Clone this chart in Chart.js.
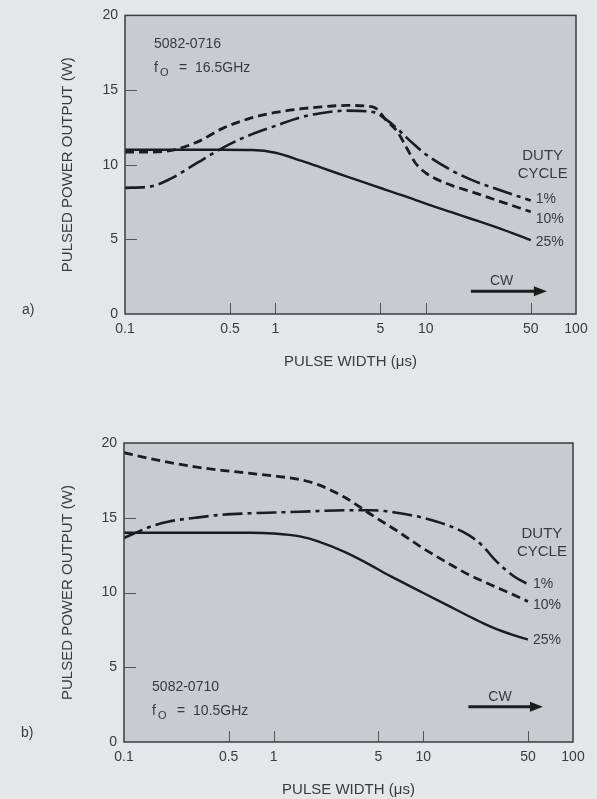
<!DOCTYPE html>
<html>
<head>
<meta charset="utf-8">
<script src="https://cdn.jsdelivr.net/npm/chart.js@4.4.1/dist/chart.umd.min.js"></script>
<style>
  html, body { margin: 0; padding: 0; background: #e4e7ea; }
  canvas { display: block; }
</style>
</head>
<body>
<canvas id="chartA" width="597" height="400"></canvas>
<canvas id="chartB" width="597" height="399"></canvas>
<script>
const xTickValues = [0.1, 0.5, 1, 5, 10, 50, 100];
const yTickValues = [0, 5, 10, 15, 20];
const dutyLabels = ["1%", "10%", "25%"];

// a) 5082-0716 at 16.5 GHz
const pulseA = [0.1, 0.15, 0.2, 0.3, 0.45, 0.7, 1, 1.5, 2, 3, 4.5, 5.5, 6.5, 7.5, 8.5, 10, 15, 20, 30, 50];
const powerA1  = [8.45, 8.55, 9.05, 10.1, 11.15, 12.05, 12.6, 13.2, 13.45, 13.62, 13.52, 13.0, 12.4, 11.8, 11.3, 10.7, 9.6, 9.0, 8.35, 7.6];
const powerA10 = [10.85, 10.85, 10.95, 11.5, 12.45, 13.15, 13.5, 13.75, 13.87, 13.97, 13.85, 12.95, 12.2, 11.1, 10.15, 9.45, 8.6, 8.2, 7.6, 6.85];
const powerA25 = [11.0, 11.0, 11.0, 11.0, 11.0, 10.98, 10.8, 10.25, 9.82, 9.2, 8.6, 8.3, 8.05, 7.84, 7.65, 7.4, 6.8, 6.38, 5.78, 4.95];

// b) 5082-0710 at 10.5 GHz
const pulseB = [0.1, 0.15, 0.2, 0.3, 0.45, 0.7, 1, 1.5, 2, 3, 4.5, 5.5, 6.5, 7.5, 8.5, 10, 15, 20, 25, 30, 40, 50];
const powerB1  = [13.65, 14.4, 14.75, 15.0, 15.2, 15.3, 15.35, 15.4, 15.45, 15.5, 15.5, 15.45, 15.35, 15.25, 15.15, 15.0, 14.45, 13.85, 13.1, 12.2, 11.1, 10.55];
const powerB10 = [19.35, 18.95, 18.7, 18.4, 18.17, 17.97, 17.8, 17.55, 17.2, 16.35, 15.2, 14.65, 14.2, 13.78, 13.42, 12.95, 11.9, 11.2, 10.75, 10.4, 9.85, 9.4];
const powerB25 = [14.0, 14.0, 14.0, 14.0, 14.0, 14.0, 13.95, 13.75, 13.4, 12.7, 11.8, 11.3, 10.93, 10.61, 10.33, 9.97, 9.07, 8.43, 7.95, 7.6, 7.15, 6.85];

const INK = "#1c1c1c";
const TEXT = "#3a3a3a";
const PANEL = "#c8cbd0";
const FONT = '"Liberation Sans", Arial, Helvetica, sans-serif';

function font(size) { return size + "px " + FONT; }

const plotDecor = {
  id: "plotDecor",
  beforeDatasetsDraw(chart) {
    const { ctx, chartArea: a } = chart;
    ctx.save();
    ctx.fillStyle = PANEL;
    ctx.fillRect(a.left, a.top, a.right - a.left, a.bottom - a.top);
    ctx.restore();
  },
  afterDatasetsDraw(chart, args, o) {
    const { ctx, chartArea: a, scales: { x, y } } = chart;
    ctx.save();

    // frame
    ctx.strokeStyle = "#3c3c3c";
    ctx.lineWidth = 1.5;
    ctx.strokeRect(a.left, a.top, a.right - a.left, a.bottom - a.top);

    // inside tick marks
    ctx.strokeStyle = "#555";
    ctx.lineWidth = 1;
    ctx.beginPath();
    xTickValues.slice(1, -1).forEach(v => {
      const px = Math.round(x.getPixelForValue(v)) + 0.5;
      ctx.moveTo(px, a.bottom);
      ctx.lineTo(px, a.bottom - 11);
    });
    yTickValues.slice(1, -1).forEach(v => {
      const py = Math.round(y.getPixelForValue(v)) + 0.5;
      ctx.moveTo(a.left, py);
      ctx.lineTo(a.left + 12, py);
    });
    ctx.stroke();

    ctx.fillStyle = TEXT;
    ctx.textBaseline = "middle";

    // device and frequency note
    const nx = x.getPixelForValue(o.note.x);
    const ny = y.getPixelForValue(o.note.y);
    ctx.textAlign = "left";
    ctx.font = font(14);
    ctx.fillText(o.device, nx, ny);
    ctx.fillText("f", nx, ny + 24);
    ctx.font = font(11);
    ctx.fillText("O", nx + 6, ny + 29);
    ctx.font = font(14);
    ctx.fillText("=", nx + 25, ny + 24);
    ctx.fillText(o.freq, nx + 41, ny + 24);

    // duty cycle heading
    const dx = x.getPixelForValue(o.duty.x);
    const dy = y.getPixelForValue(o.duty.y);
    ctx.textAlign = "center";
    ctx.font = font(15);
    ctx.fillText("DUTY", dx, dy);
    ctx.fillText("CYCLE", dx, dy + 18);

    // labels at the end of each curve
    ctx.textAlign = "left";
    ctx.font = font(14);
    chart.data.datasets.forEach((ds, i) => {
      const pts = chart.getDatasetMeta(i).data;
      const last = pts[pts.length - 1];
      ctx.fillText(ds.label, last.x + 5, last.y + o.labelShift[i]);
    });

    // CW arrow
    const ax1 = x.getPixelForValue(o.cw.from);
    const ax2 = x.getPixelForValue(o.cw.to);
    const ay = y.getPixelForValue(o.cw.y);
    ctx.strokeStyle = INK;
    ctx.fillStyle = INK;
    ctx.lineWidth = 3;
    ctx.beginPath();
    ctx.moveTo(ax1, ay);
    ctx.lineTo(ax2 - 10, ay);
    ctx.stroke();
    ctx.beginPath();
    ctx.moveTo(ax2, ay);
    ctx.lineTo(ax2 - 13, ay - 5);
    ctx.lineTo(ax2 - 13, ay + 5);
    ctx.closePath();
    ctx.fill();
    ctx.fillStyle = TEXT;
    ctx.textAlign = "center";
    ctx.font = font(14);
    ctx.fillText("CW", x.getPixelForValue(o.cw.text), ay - 10);

    // panel letter
    ctx.textAlign = "left";
    ctx.fillText(o.panel.text, o.panel.x, o.panel.y);

    ctx.restore();
  }
};

function makeChart(id, pulse, series, decor, box) {
  const styles = [
    { borderDash: [20, 5, 4, 5], borderWidth: 2.6 },
    { borderDash: [9, 5], borderWidth: 2.8 },
    { borderDash: [], borderWidth: 2.4 }
  ];
  return new Chart(document.getElementById(id), {
    type: "line",
    data: {
      datasets: series.map((vals, i) => ({
        label: dutyLabels[i],
        data: pulse.map((p, k) => ({ x: p, y: vals[k] })),
        borderColor: INK,
        borderDash: styles[i].borderDash,
        borderWidth: styles[i].borderWidth,
        pointRadius: 0,
        fill: false,
        cubicInterpolationMode: "monotone"
      }))
    },
    options: {
      responsive: false,
      animation: false,
      events: [],
      layout: { padding: { top: box.top, right: box.right, left: 0, bottom: 0 } },
      scales: {
        x: {
          type: "logarithmic",
          min: 0.1,
          max: 100,
          afterBuildTicks: s => { s.ticks = xTickValues.map(v => ({ value: v })); },
          afterFit: s => { s.height = box.xHeight; },
          grid: { display: false, drawTicks: false },
          border: { display: false },
          ticks: {
            autoSkip: false,
            maxRotation: 0,
            padding: 7,
            color: TEXT,
            font: { family: FONT, size: 14 },
            callback: v => String(v)
          },
          title: {
            display: true,
            text: "PULSE WIDTH (\u03bcs)",
            color: TEXT,
            font: { family: FONT, size: 15 },
            padding: { top: 0, bottom: box.xTitlePad }
          }
        },
        y: {
          min: 0,
          max: 20,
          afterBuildTicks: s => { s.ticks = yTickValues.map(v => ({ value: v })); },
          afterFit: s => { s.width = box.yWidth; },
          grid: { display: false, drawTicks: false },
          border: { display: false },
          ticks: {
            padding: 7,
            color: TEXT,
            font: { family: FONT, size: 14 }
          },
          title: {
            display: true,
            text: "PULSED POWER OUTPUT (W)",
            color: TEXT,
            font: { family: FONT, size: 15 },
            padding: { top: 59, bottom: 0 }
          }
        }
      },
      plugins: {
        legend: { display: false },
        tooltip: { enabled: false },
        plotDecor: decor
      }
    },
    plugins: [plotDecor]
  });
}

makeChart("chartA", pulseA, [powerA1, powerA10, powerA25], {
  device: "5082-0716",
  freq: "16.5GHz",
  note: { x: 0.156, y: 18.07 },
  duty: { x: 60, y: 10.6 },
  labelShift: [-1, 7, 2],
  cw: { from: 20, to: 64, y: 1.53, text: 32 },
  panel: { text: "a)", x: 22, y: 310 }
}, { top: 14, right: 21, yWidth: 125, xHeight: 86, xTitlePad: 29 });

makeChart("chartB", pulseB, [powerB1, powerB10, powerB25], {
  device: "5082-0710",
  freq: "10.5GHz",
  note: { x: 0.154, y: 3.68 },
  duty: { x: 62, y: 13.9 },
  labelShift: [0, 4, 1],
  cw: { from: 20, to: 63, y: 2.36, text: 32.5 },
  panel: { text: "b)", x: 21, y: 333 }
}, { top: 43, right: 24, yWidth: 124, xHeight: 57, xTitlePad: 0 });
</script>
</body>
</html>
